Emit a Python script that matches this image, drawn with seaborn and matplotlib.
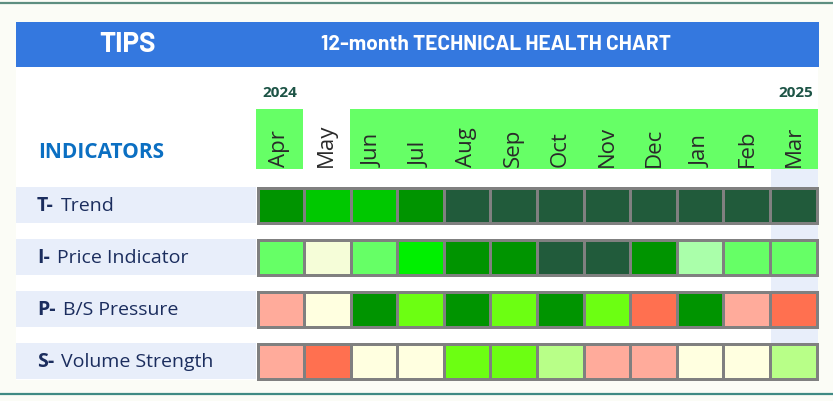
import numpy as np
import pandas as pd
import matplotlib
matplotlib.use("Agg")
import matplotlib.pyplot as plt
from matplotlib.colors import ListedColormap
from matplotlib.patches import Rectangle
from matplotlib import font_manager
import seaborn as sns

# ---- data -------------------------------------------------------------
ticker = "TIPS"
title = "12-month TECHNICAL HEALTH CHART"
months = ["Apr", "May", "Jun", "Jul", "Aug", "Sep", "Oct", "Nov", "Dec", "Jan", "Feb", "Mar"]
year_start = "2024"
year_end = "2025"
# months that carry a green header tab (1) or none (0)
month_tab = [1, 0, 1, 1, 1, 1, 1, 1, 1, 1, 1, 1]

indicator_keys = ["T-", "I-", "P-", "S-"]
indicator_names = ["Trend", "Price Indicator", "B/S Pressure", "Volume Strength"]

# rating levels: 0 = weakest (red) ... 11 = strongest (dark green)
trend_levels = [10, 9, 9, 10, 11, 11, 11, 11, 11, 11, 11, 11]
price_levels = [6, 3, 6, 8, 10, 10, 11, 11, 10, 5, 6, 6]
pressure_levels = [1, 2, 10, 7, 10, 7, 10, 7, 0, 10, 1, 0]
volume_levels = [1, 0, 2, 2, 7, 7, 4, 1, 1, 2, 2, 4]

level_colors = [
    "#ff7050",  # 0 strong negative
    "#ffab9b",  # 1 negative
    "#ffffe0",  # 2 neutral
    "#f5fdd8",  # 3 neutral, leaning positive
    "#b8ff88",  # 4 mildly positive
    "#aaffaa",  # 5 mildly positive
    "#66ff66",  # 6 positive
    "#6cff12",  # 7 positive (lime)
    "#00f000",  # 8 strong
    "#00c800",  # 9 strong
    "#009400",  # 10 very strong
    "#215b3b",  # 11 strongest
]

# ---- styling ----------------------------------------------------------
sns.set_theme(style="white")

def pick_font(cands):
    names = {f.name for f in font_manager.fontManager.ttflist}
    for c in cands:
        if c in names:
            return c
    return "DejaVu Sans"

head_font = pick_font(["Barlow", "Fira Sans Condensed", "Roboto Condensed", "Roboto"])
body = pick_font(["Open Sans", "Noto Sans", "DejaVu Sans"])
plt.rcParams["font.family"] = [body, "DejaVu Sans"]

W, H = 833, 402
DPI = 100
fig = plt.figure(figsize=(W / DPI, H / DPI), dpi=DPI)
fig.patch.set_facecolor("#fbfcf6")

# canvas axes in pixel coordinates for the frame, bands and text
bg = fig.add_axes([0, 0, 1, 1])
bg.set_xlim(0, W)
bg.set_ylim(H, 0)
bg.axis("off")
bg.set_zorder(0)

# frame lines
bg.plot([0, W], [4, 4], color="#5d8e80", lw=1.6, solid_capstyle="butt")
bg.plot([0, W], [394.5, 394.5], color="#3f8a84", lw=1.6, solid_capstyle="butt")

# white panel
bg.add_patch(Rectangle((16, 68), 802, 313, facecolor="white", edgecolor="none"))

# header band
bg.add_patch(Rectangle((16, 23), 803, 45, facecolor="#3478df", edgecolor="none"))
bg.text(128, 45, ticker, color="white", fontsize=20, fontweight="bold",
        family=[head_font, "DejaVu Sans"], ha="center", va="center")
bg.text(496, 45, title, color="white", fontsize=15, fontweight="bold",
        family=[head_font, "DejaVu Sans"], ha="center", va="center")

# grid geometry (pixels)
gx0, gx1 = 256, 818
ncol = len(months)
cw = (gx1 - gx0) / ncol
row_tops = [187, 239, 291, 343]
row_h = 38

# highlight of the latest month
bg.add_patch(Rectangle((gx0 + (ncol - 1) * cw, 170), cw, 211, facecolor="#e8eefa", edgecolor="none"))

# month header tabs and labels
for i, (m, tab) in enumerate(zip(months, month_tab)):
    x = gx0 + i * cw
    if tab:
        bg.add_patch(Rectangle((x, 110), cw, 60, facecolor="#66ff66", edgecolor="none"))
    bg.text(x + cw / 2, 167, m, rotation=90, ha="center", va="bottom",
            fontsize=16, color="#2a2a2a")

bg.text(262, 93, year_start, ha="left", va="center", fontsize=11,
        fontweight="bold", color="#1d5446")
bg.text(813, 93, year_end, ha="right", va="center", fontsize=11,
        fontweight="bold", color="#1d5446")

bg.text(38, 153, "INDICATORS", ha="left", va="center", fontsize=15,
        fontweight="bold", color="#0b6fc2")

# indicator rows
rows = [trend_levels, price_levels, pressure_levels, volume_levels]
cmap = ListedColormap(level_colors)
lw_pt = 3 * 72 / DPI
for key, name, levels, top in zip(indicator_keys, indicator_names, rows, row_tops):
    # label band
    bg.add_patch(Rectangle((16, top + 1), gx0 - 16, row_h - 2, facecolor="#e8eefa", edgecolor="none"))
    t = bg.text(37, top + row_h / 2, key, ha="left", va="center", fontsize=14,
                fontweight="bold", color="#1b2d5e")
    fig.canvas.draw()
    bb = t.get_window_extent()
    bg.text(bb.x1 + 7, top + row_h / 2, name, ha="left", va="center",
            fontsize=14, color="#1b2d5e")

    ax = fig.add_axes([(gx0 + 1.5) / W, 1 - (top + row_h - 1.5) / H,
                       (gx1 - gx0 - 3) / W, (row_h - 3) / H])
    ax.set_zorder(2)
    df = pd.DataFrame([levels], columns=months, index=[name])
    sns.heatmap(df, ax=ax, cmap=cmap, vmin=-0.5, vmax=len(level_colors) - 0.5,
                cbar=False, linewidths=lw_pt, linecolor="#808080",
                xticklabels=False, yticklabels=False)
    for s in ax.spines.values():
        s.set_visible(True)
        s.set_color("#808080")
        s.set_linewidth(lw_pt)

fig.savefig("out.png", dpi=DPI, facecolor=fig.get_facecolor())
